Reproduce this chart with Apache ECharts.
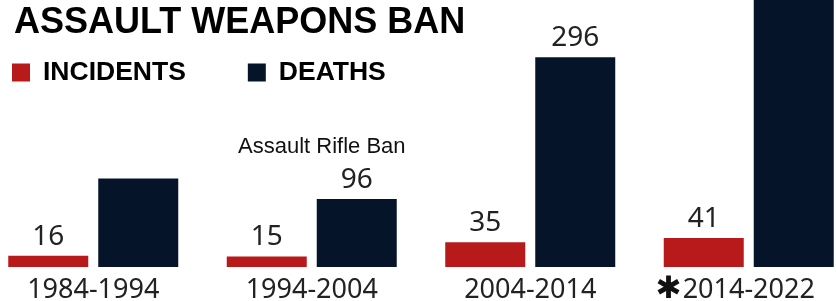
<!DOCTYPE html>
<html>
<head>
<meta charset="utf-8">
<script src="https://cdn.jsdelivr.net/npm/echarts@6/dist/echarts.min.js"></script>
<style>
    html, body { margin: 0; padding: 0; background: #fff; overflow: hidden; }
    /* 图表比窗口宽，两边的柱子被截掉一点 */
    #chart { position: absolute; left: -16px; top: 0; width: 874px; height: 301px; }
</style>
</head>
<body>
<div id="chart"></div>
<script>
    // 数据
    var periods = ['1984-1994', '1994-2004', '2004-2014', '2014-2022'];
    var incidents = [16, 15, 35, 41];
    var deaths = [125, 96, 296, 420];   // 第一个和最后一个没有标注，按柱高估计
    var deathsLabelShown = [false, true, true, false];

    var chart = echarts.init(document.getElementById('chart'));

    var numLabel = {
        show: true,
        position: 'top',
        distance: 5,
        color: '#222',
        fontFamily: 'Noto Sans',
        fontSize: 28
    };

    chart.setOption({
        animation: false,
        title: {
            text: 'ASSAULT WEAPONS BAN',
            left: 30,
            top: 5,
            padding: 0,
            textStyle: {
                fontFamily: 'Liberation Sans',
                fontWeight: 'bold',
                fontSize: 36,
                color: '#000'
            }
        },
        legend: {
            left: 28,
            top: 59,
            padding: 0,
            icon: 'rect',
            itemWidth: 18,
            itemHeight: 18,
            itemGap: 62,
            textStyle: {
                fontFamily: 'Liberation Sans',
                fontWeight: 'bold',
                fontSize: 26.5,
                color: '#000',
                padding: [0, 0, 0, 8]
            },
            data: ['INCIDENTS', 'DEATHS']
        },
        graphic: [{
            type: 'text',
            left: 254,
            top: 136,
            style: {
                text: 'Assault Rifle Ban',
                fontFamily: 'Liberation Sans',
                fontSize: 22,
                fill: '#111'
            }
        }],
        grid: {
            left: 0,
            right: 0,
            top: 0,
            bottom: 34,
            outerBoundsMode: 'none'
        },
        xAxis: {
            type: 'category',
            data: periods,
            axisLine: { show: false },
            axisTick: { show: false },
            axisLabel: {
                interval: 0,
                margin: 8,
                lineHeight: 30,
                color: '#222',
                fontFamily: 'Noto Sans',
                fontSize: 27,
                formatter: function (v, i) {
                    return i === 3 ? '{star|✱}' + v + '{pad|}' : v;
                },
                rich: {
                    star: {
                        fontFamily: 'DejaVu Sans',
                        fontWeight: 'bold',
                        fontSize: 31,
                        lineHeight: 30,
                        color: '#111',
                        width: 28
                    },
                    pad: { width: 28, lineHeight: 30 }
                }
            }
        },
        yAxis: {
            type: 'value',
            min: 0,
            max: 377,
            show: false,
            splitLine: { show: false }
        },
        series: [{
            name: 'INCIDENTS',
            type: 'bar',
            barWidth: 80,
            barGap: '12.5%',
            itemStyle: { color: '#b8191a' },
            label: numLabel,
            data: incidents
        }, {
            name: 'DEATHS',
            type: 'bar',
            barWidth: 80,
            itemStyle: { color: '#06142a' },
            label: numLabel,
            data: deaths.map(function (v, i) {
                return { value: v, label: { show: deathsLabelShown[i] } };
            })
        }]
    });
</script>
</body>
</html>
